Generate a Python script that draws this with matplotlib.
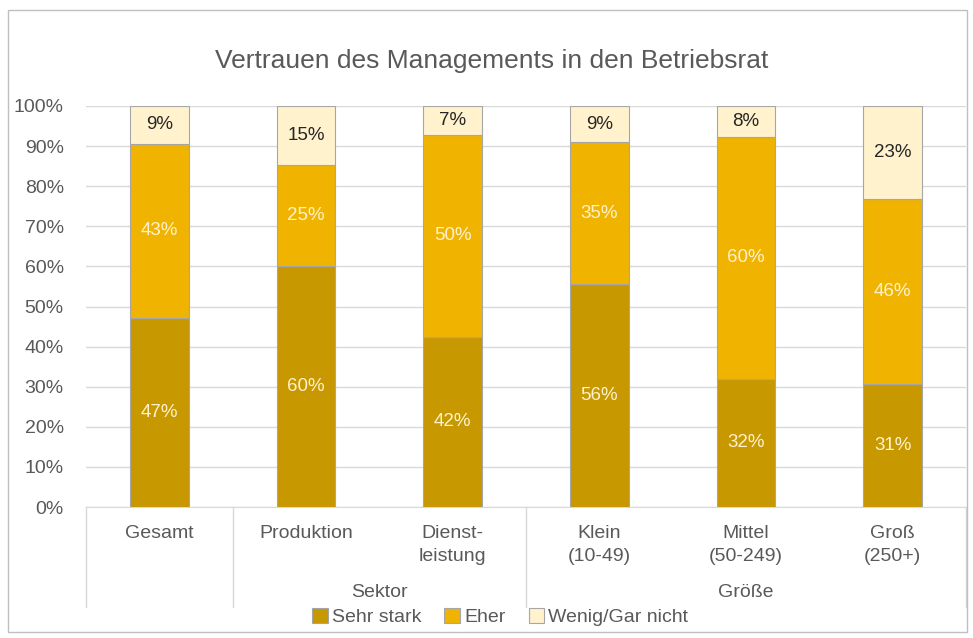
import matplotlib.pyplot as plt
import matplotlib.transforms as mtransforms
from matplotlib.patches import Rectangle
import numpy as np

plt.rcParams['font.family'] = ['Liberation Sans', 'DejaVu Sans']

# Daten (Anteile in %)
kategorien = ['Gesamt', 'Produktion', 'Dienst-\nleistung', 'Klein\n(10-49)', 'Mittel\n(50-249)', 'Groß\n(250+)']
gruppen = ['Sektor', 'Größe']
sehr_stark = [47.2, 60.0, 42.4, 55.6, 32.0, 30.6]
eher = [43.4, 25.4, 50.4, 35.4, 60.3, 46.1]
wenig = [9.4, 14.6, 7.2, 9.0, 7.7, 23.3]
serien = ['Sehr stark', 'Eher', 'Wenig/Gar nicht']

farben = ['#C89800', '#F0B400', '#FFF2CC']
textfarben = ['#FFF2CC', '#FFF2CC', '#262626']

fig = plt.figure(figsize=(9.73, 6.38), dpi=100)
ax = fig.add_axes([86/973, 1-507/638, 880/973, 401/638])

x = np.arange(len(kategorien))
unten = np.zeros(len(x))
for werte, farbe, tf, name in zip([sehr_stark, eher, wenig], farben, textfarben, serien):
    werte = np.array(werte)
    ax.bar(x, werte, 0.4, bottom=unten, color=farbe, edgecolor='#A6A6A6',
           linewidth=0.8, label=name, zorder=3)
    for xi, b, w in zip(x, unten, werte):
        ax.text(xi, b + w/2, f'{round(w):.0f}%', ha='center', va='center',
                fontsize=13.5, color=tf, zorder=4)
    unten += werte

ax.set_xlim(-0.5, 5.5)
ax.set_ylim(0, 100)
ax.set_yticks(range(0, 101, 10))
ax.set_yticklabels([f'{v}%' for v in range(0, 101, 10)])
ax.tick_params(axis='y', length=0, labelsize=14, labelcolor='#595959', pad=16)
ax.set_xticks([])
ax.grid(axis='y', color='#D9D9D9', linewidth=1, zorder=0)
for s in ['left', 'right', 'top']:
    ax.spines[s].set_visible(False)
ax.spines['bottom'].set_color('#D9D9D9')

# mehrstufige Achse
trans = mtransforms.blended_transform_factory(ax.transData, ax.transAxes)
for xs in [-0.5, 0.5, 2.5, 5.5]:
    ax.plot([xs, xs], [0, -0.25], transform=trans, color='#D9D9D9',
            linewidth=1, clip_on=False)
for xi, kat in zip(x, kategorien):
    ax.text(xi, -0.045, kat, transform=trans, ha='center', va='top',
            fontsize=14, color='#595959', linespacing=1.45)
ax.text(1.5, -0.212, gruppen[0], transform=trans, ha='center', va='center',
        fontsize=14, color='#595959')
ax.text(4, -0.212, gruppen[1], transform=trans, ha='center', va='center',
        fontsize=14, color='#595959')

fig.suptitle('Vertrauen des Managements in den Betriebsrat', x=0.505, y=1-61/638,
             va='center', fontsize=19, color='#595959')

leg = fig.legend(loc='center', bbox_to_anchor=(0.514, 1-617/638), ncol=3,
                 frameon=False, fontsize=14, handlelength=0.8, handleheight=0.8,
                 handletextpad=0.2, columnspacing=1.2, borderaxespad=0)
for t in leg.get_texts():
    t.set_color('#595959')

fig.patches.append(Rectangle((8/973, 6/638), 1-14/973, 1-16/638, transform=fig.transFigure,
                             fill=False, edgecolor='#BFBFBF', linewidth=1))

fig.savefig('out.png', dpi=100)
